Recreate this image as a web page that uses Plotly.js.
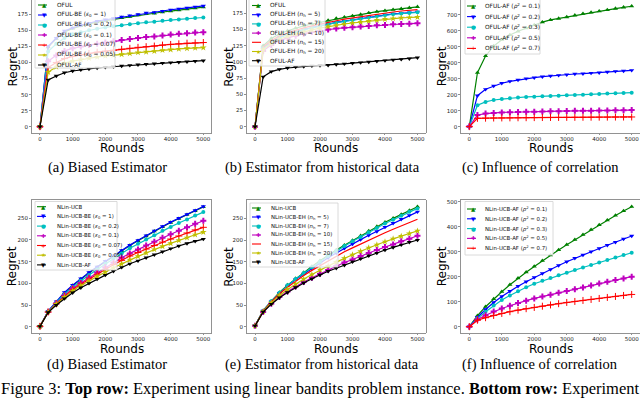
<!DOCTYPE html>
<html>
<head>
<meta charset="utf-8">
<script src="https://cdn.plot.ly/plotly-3.0.1.min.js"></script>
<style>body{margin:0;background:#fff}</style>
</head>
<body>
<div id="chart" style="width:640px;height:398px"></div>
<script>
const rounds = [0,250,500,750,1000,1250,1500,1750,2000,2250,2500,2750,3000,3250,3500,3750,4000,4250,4500,4750,5000]

// (a) biased estimator, linear bandits
const aOFUL = [0,124,137,147.5,153,157,160,163,165,167,169.5,171.5,173.5,175.5,176.5,178.5,180,181.5,183,184.5,186]
const aBE1 = [0,125,138,149,154,158,161,164.5,166.5,168.5,171,173,175,177,178,180,182,183.5,185,186.5,188]
const aBE02 = [0,117,129,138,144,147,150,152.5,154.5,156.5,158,159.5,161,162.5,163.5,165,166,167,168,169,170]
const aBE01 = [0,102,111,118,122,125,127,129,131,133,135,136.5,138,139.5,140.5,142,143.5,144.5,145.5,146.5,147]
const aBE007 = [0,92,100,106,109.5,112,114,116,117.5,119,120.5,122,123.5,124.5,125.5,127,128,129,130,130.5,131]
const aBE005 = [0,85,93,99,102,104.5,106.5,108.5,110,111.5,112.6,114,115.5,116.5,117.5,119,120,121,122,122.5,123]
const aAF = [0,72.7,79,84,86.7,88.5,90,91.5,92.5,93.5,94.5,95.5,96.5,97.3,98,99,99.8,100.5,101.2,102,102.8]

// (b) estimator from historical data, linear bandits
const bOFUL = [0,125,136,143,148,152,155.5,158.5,161,164,167,169,171,173,175.5,177.5,179,180.5,182,183.5,185]
const bEH5 = [0,121,131,138,142.5,146.5,150,153,156,158.5,161,163,165,167,169,171,172.5,174,175,176,177]
const bEH7 = [0,120.5,130.5,137.5,142,146,149.5,152.5,155.5,158,160.5,162.5,164.5,166.5,168.5,170.5,172,173.5,174.5,175.5,176.5]
const bEH10 = [0,117,126,132.5,137,140.5,143.5,146,148,150,151.5,152.5,153.5,154.5,155.5,156.5,157,158,158.5,159,159.5]
const bEH15 = [0,123,133,140,145,149,152.5,155.5,158.5,161.5,163.5,166,168,170,172,174,175.5,177,178.5,179.5,180.5]
const bEH20 = [0,119,128,135,139.5,143,146.5,149.5,152,154.5,156.5,158.5,160,161.5,163,164.5,166,167,168,168.5,169]
const bAF = [0,77,85,88.5,90.6,92,93,94,94.5,95,96,97,98,99,100,101,102,103,104,105,106.5]

// (c) influence of correlation, linear bandits
const cAF01 = [0,338,443,505,545,575,598,618,638,655,669,678,687,698,708,716,724,732,740,748,755]
const cAF02 = [0,194,234,255,272,284,293,301,307,313,318,322,326,330,332,336,338,343,347,349,353]
const cAF03 = [0,134,155,167,173,178,182,186,188,190,192,194,196,198,200,203,205,207,209,211,213]
const cAF05 = [0,73,81.5,86,89,90,92,93,94,95,96,97,98,99,99.5,100,101,101.5,102,103,104]
const cAF07 = [0,52,53,54,54.5,55,55.5,56,56.5,57,57.3,57.6,58,58.3,58.6,59,59.3,59.6,60,60.2,60.5]

// (d) biased estimator, non-linear
const dNLin = [1,35.5,57,78,95,110,124,137,150,163,175,187,198,209,220,230,240,249,258,267,276]
const dBE1 = [1,36,58,79,96,111,125,138,151,164,176,188,199,210,221,231,241,250,259,268,277]
const dBE02 = [1,35,56,75,91.5,106,119,132,145,157,169,181,191,201,211,221,230,239,247,256,264]
const dBE01 = [1,34.5,54,72,88.5,101,113,125,137,148,159,169,178,187,196,205,213,221,229,237,244]
const dBE007 = [1,34,53,70.5,86,98,110,121,132,143,153,163,171,179,187,195,202,209,216,223,229]
const dBE005 = [1,34,52,68.5,83,95,106,116,126,136,145,154,162,170,178,185,192,199,205,212,218]
const dAF = [1,33,50,65,78.5,90,100,110,119,128,137,145,152,159,166,173,180,186,192,197,202]

// (e) estimator from historical data, non-linear
const eNLin = [2,37,59,79,96,111,125,139,152,165,177,188,199,210,221,231,241,250,259,268,277]
const eEH5 = [2,36.5,58,77.5,94.5,109,122,135,147,159,170,181,191,201,211,220,230,239,248,257,265]
const eEH7 = [2,37,59,78.5,95.5,110,124,137.5,150,163,175,186,197,207,218,228,238,247,256,265,273]
const eEH10 = [2,34,53,68.5,81,93,103,113,122,131,140,148,155,163,170,177,184,190,197,203,210]
const eEH15 = [2,36,57,76,91,105,118,130,141,152,163,173,182,191,200,209,217,225,233,241,248]
const eEH20 = [2,35,55,72,86,98.5,110,120.5,131,140,149,158,166,174,182,189,196,203,209,215,221]
const eAF = [2,34,52,67,79,90.5,101,110.5,119.5,128,135,142,150,157,164,170,177,183,189,195,200]

// (f) influence of correlation, non-linear
const fAF01 = [0,44,80,111,140,168,194,218,241,264,286,307,328,348,368,388,407,426,445,463,480]
const fAF02 = [0,38,69,97,121,142,162,180,197,213,229,245,260,274,287,300,313,326,338,351,363]
const fAF03 = [0,33,60,85,107,125,142,158,172,183.5,194.5,205.5,216,226.5,237,247,257,267,277,286.5,296]
const fAF05 = [0,29,46,61,73,84,95,104,113,120.5,128,136,143,150,157,165,173,180,187,193,200]
const fAF07 = [0,26,36,45,53,60,66,72,77,82,87,92,97,101,105,109,113,117,121,125,129]

const colors = {g:'#008000', b:'#0000ff', c:'#00bfbf', m:'#bf00bf', r:'#ff0000', y:'#bfbf00', k:'#000000'}
const markers = {
    '^': {symbol:'triangle-up', glyph:'▲', size:4.5},
    'v': {symbol:'triangle-down', glyph:'▼', size:4.5},
    'o': {symbol:'circle', glyph:'●', size:4},
    'P': {symbol:'cross', glyph:'✚', size:5},
    '+': {symbol:'cross-thin-open', glyph:'+', size:5},
    '*': {symbol:'star', glyph:'★', size:5}
}

const W = 640, H = 398
const px = x => x / W
const py = y => 1 - y / H

const be = (alg, v) => alg + '-BE (<i>ε</i><sub>0</sub> = ' + v + ')'
const eh = (alg, v) => alg + '-EH (<i>n</i><sub>h</sub> = ' + v + ')'
const af = (alg, v) => alg + '-AF (<i>ρ</i><sup>2</sup> = ' + v + ')'

const panels = [
    {x:[31.8,211.5], y:[0,133], yr:[-9.8,197.2], dtick:25, ylab:12, xlab:147.5, cap:'(a) Biased Estimator', capx:107, capy:167,
     leg:{x0:35, x1:115, y0:-2, y1:68, first:5, gap:10, h0:38, h1:50, tx:55, fs:5.8},
     series:[
        {name:'OFUL', y:aOFUL, c:'g', m:'^'},
        {name:be('OFUL',1), y:aBE1, c:'b', m:'v'},
        {name:be('OFUL',0.2), y:aBE02, c:'c', m:'o'},
        {name:be('OFUL',0.1), y:aBE01, c:'m', m:'P'},
        {name:be('OFUL',0.07), y:aBE007, c:'r', m:'+'},
        {name:be('OFUL',0.05), y:aBE005, c:'y', m:'*'},
        {name:'OFUL-AF', y:aAF, c:'k', m:'v'}]},
    {x:[246.9,425.6], y:[0,133], yr:[-9.7,195.5], dtick:25, ylab:228.3, xlab:147.5, cap:'(b) Estimator from historical data', capx:322, capy:167,
     leg:{x0:249, x1:325, y0:-2, y1:66, first:5.5, gap:9.2, h0:252, h1:264, tx:268, fs:5.8},
     series:[
        {name:'OFUL', y:bOFUL, c:'g', m:'^'},
        {name:eh('OFUL',5), y:bEH5, c:'b', m:'v'},
        {name:eh('OFUL',7), y:bEH7, c:'c', m:'o'},
        {name:eh('OFUL',10), y:bEH10, c:'m', m:'P'},
        {name:eh('OFUL',15), y:bEH15, c:'r', m:''},
        {name:eh('OFUL',20), y:bEH20, c:'y', m:'*'},
        {name:'OFUL-AF', y:bAF, c:'k', m:'v'}]},
    {x:[461.2,639.8], y:[0,133], yr:[-40,794], dtick:100, ylab:441.7, xlab:147.5, cap:'(c) Influence of correlation', capx:540, capy:167,
     leg:{x0:465, x1:540, y0:-2, y1:54, first:6, gap:10.6, h0:467, h1:480, tx:483, fs:5.8},
     series:[
        {name:af('OFUL',0.1), y:cAF01, c:'g', m:'^'},
        {name:af('OFUL',0.2), y:cAF02, c:'b', m:'v'},
        {name:af('OFUL',0.3), y:cAF03, c:'c', m:'o'},
        {name:af('OFUL',0.5), y:cAF05, c:'m', m:'P'},
        {name:af('OFUL',0.7), y:cAF07, c:'r', m:'+'}]},
    {x:[31.8,211.5], y:[200,333], yr:[-14.3,291.9], dtick:50, ylab:11.7, xlab:348.5, cap:'(d) Biased Estimator', capx:107, capy:364,
     leg:{x0:35, x1:117, y0:201.5, y1:270, first:206.7, gap:9.7, h0:37, h1:50, tx:55, fs:5.4},
     series:[
        {name:'NLin-UCB', y:dNLin, c:'g', m:'^'},
        {name:be('NLin-UCB',1), y:dBE1, c:'b', m:'v'},
        {name:be('NLin-UCB',0.2), y:dBE02, c:'c', m:'o'},
        {name:be('NLin-UCB',0.1), y:dBE01, c:'m', m:'P'},
        {name:be('NLin-UCB',0.07), y:dBE007, c:'r', m:'+'},
        {name:be('NLin-UCB',0.05), y:dBE005, c:'y', m:'*'},
        {name:'NLin-UCB-AF', y:dAF, c:'k', m:'v'}]},
    {x:[246.9,425.6], y:[200,333], yr:[-14.5,292.4], dtick:50, ylab:228.3, xlab:348.5, cap:'(e) Estimator from historical data', capx:322, capy:364,
     leg:{x0:250, x1:338, y0:203, y1:267, first:208, gap:9, h0:252, h1:265, tx:269, fs:5.4},
     series:[
        {name:'NLin-UCB', y:eNLin, c:'g', m:'^'},
        {name:eh('NLin-UCB',5), y:eEH5, c:'b', m:'v'},
        {name:eh('NLin-UCB',7), y:eEH7, c:'c', m:'o'},
        {name:eh('NLin-UCB',10), y:eEH10, c:'m', m:'P'},
        {name:eh('NLin-UCB',15), y:eEH15, c:'r', m:''},
        {name:eh('NLin-UCB',20), y:eEH20, c:'y', m:'*'},
        {name:'NLin-UCB-AF', y:eAF, c:'k', m:'v'}]},
    {x:[461.2,639.8], y:[200,333], yr:[-25.2,506.8], dtick:100, ylab:441.7, xlab:348.5, cap:'(f) Influence of correlation', capx:540, capy:364,
     leg:{x0:465, x1:553, y0:201.5, y1:255, first:209, gap:9.8, h0:467, h1:480, tx:483, fs:5.4},
     series:[
        {name:af('NLin-UCB',0.1), y:fAF01, c:'g', m:'^'},
        {name:af('NLin-UCB',0.2), y:fAF02, c:'b', m:'v'},
        {name:af('NLin-UCB',0.3), y:fAF03, c:'c', m:'o'},
        {name:af('NLin-UCB',0.5), y:fAF05, c:'m', m:'P'},
        {name:af('NLin-UCB',0.7), y:fAF07, c:'r', m:'+'}]}
]

const data = []
const shapes = []
const annotations = []
const layout = {
    width: W, height: H,
    margin: {l:0, r:0, t:0, b:0},
    paper_bgcolor: '#fff', plot_bgcolor: '#fff',
    showlegend: false,
    font: {family: 'DejaVu Sans', color: '#000'}
}

const tickFont = {family:'DejaVu Sans', size:5.5, color:'#222'}
const labFont = {family:'DejaVu Sans', size:12, color:'#000'}

panels.forEach((p, i) => {
    const n = i === 0 ? '' : String(i + 1)
    layout['xaxis' + n] = {
        domain: [px(p.x[0]), px(p.x[1])], anchor: 'y' + n,
        range: [-250, 5250], tick0: 0, dtick: 1000,
        showgrid: false, zeroline: false,
        showline: true, mirror: true, linecolor: '#777', linewidth: 0.8,
        ticks: 'outside', ticklen: 1.5, tickwidth: 0.6, tickcolor: '#444',
        ticklabelstandoff: -1,
        tickfont: tickFont
    }
    layout['yaxis' + n] = {
        domain: [py(p.y[1]), py(p.y[0])], anchor: 'x' + n,
        range: p.yr, tick0: 0, dtick: p.dtick,
        showgrid: false, zeroline: false,
        showline: true, mirror: true, linecolor: '#777', linewidth: 0.8,
        ticks: 'outside', ticklen: 2, tickwidth: 0.6, tickcolor: '#444',
        tickfont: tickFont
    }

    for (const s of p.series) {
        const mk = markers[s.m]
        const trace = {
            type: 'scatter', x: rounds, y: s.y, name: s.name,
            xaxis: 'x' + n, yaxis: 'y' + n,
            mode: mk ? 'lines+markers' : 'lines',
            line: {color: colors[s.c], width: 1.2},
            cliponaxis: false
        }
        if (mk) {
            trace.marker = {symbol: mk.symbol, size: mk.size, color: colors[s.c],
                line: {color: colors[s.c], width: s.m === '+' ? 1 : 0}}
        }
        data.push(trace)
    }

    // axis labels
    annotations.push({xref:'paper', yref:'paper', x: px((p.x[0] + p.x[1]) / 2), y: py(p.xlab),
        text: 'Rounds', showarrow: false, font: labFont, xanchor: 'center', yanchor: 'middle'})
    annotations.push({xref:'paper', yref:'paper', x: px(p.ylab), y: py((p.y[0] + p.y[1]) / 2),
        text: 'Regret', textangle: -90, showarrow: false, font: labFont, xanchor: 'center', yanchor: 'middle'})
    // sub caption
    annotations.push({xref:'paper', yref:'paper', x: px(p.capx), y: py(p.capy),
        text: p.cap, showarrow: false, xanchor: 'center', yanchor: 'middle',
        font: {family: 'Liberation Serif', size: 14.5, color: '#000'}})

    // legend box drawn by hand, matplotlib style
    const L = p.leg
    shapes.push({type:'rect', xref:'paper', yref:'paper', layer:'above',
        x0: px(L.x0), x1: px(L.x1), y0: py(L.y1), y1: py(L.y0),
        fillcolor: 'rgba(255,255,255,0.8)', line: {color:'#d0d0d0', width:0.8}})
    p.series.forEach((s, k) => {
        const yy = L.first + k * L.gap
        shapes.push({type:'line', xref:'paper', yref:'paper', layer:'above',
            x0: px(L.h0), x1: px(L.h1), y0: py(yy), y1: py(yy),
            line: {color: colors[s.c], width: 1.1, dash: 'dash'}})
        const mk = markers[s.m]
        if (mk) {
            annotations.push({xref:'paper', yref:'paper', x: px((L.h0 + L.h1) / 2), y: py(yy),
                text: mk.glyph, showarrow: false, xanchor: 'center', yanchor: 'middle',
                font: {family:'DejaVu Sans', size: 5.5, color: colors[s.c]}})
        }
        annotations.push({xref:'paper', yref:'paper', x: px(L.tx), y: py(yy),
            text: s.name, showarrow: false, xanchor: 'left', yanchor: 'middle',
            font: {family:'DejaVu Sans', size: L.fs, color:'#111'}})
    })
})

annotations.push({xref:'paper', yref:'paper', x: px(-1), y: py(388),
    text: 'Figure 3: <b>Top row:</b> Experiment using linear bandits problem instance. <b>Bottom row:</b> Experiment',
    showarrow: false, xanchor: 'left', yanchor: 'middle',
    font: {family: 'Liberation Serif', size: 16.5, color: '#000'}})

layout.shapes = shapes
layout.annotations = annotations

Plotly.newPlot('chart', data, layout, {displayModeBar: false, staticPlot: true})
</script>
</body>
</html>
